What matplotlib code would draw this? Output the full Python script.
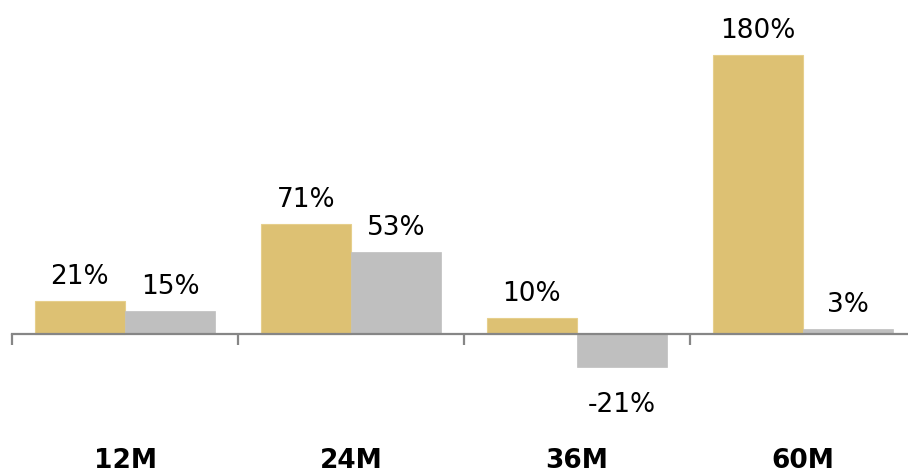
import matplotlib
matplotlib.use("Agg")
import matplotlib.pyplot as plt
import matplotlib.transforms as mtransforms
import numpy as np

categories = ["12M", "24M", "36M", "60M"]
series_a = [21, 71, 10, 180]   # gold
series_b = [15, 53, -21, 3]    # gray

gold = "#DDC173"
gray = "#BFBFBF"
axis_col = "#868686"

W, H = 908, 473
fig = plt.figure(figsize=(W / 100, H / 100), dpi=100)

# axes: x from 12px to 916px; y mapping ~1.55 px per %, zero at 334px from top
ymin, ymax = -45, 200
px_per = 1.55
top_px = 334 - ymax * px_per
bot_px = 334 - ymin * px_per
ax = fig.add_axes([12 / W, 1 - bot_px / H, 904 / W, (bot_px - top_px) / H])
ax.set_xlim(-0.5, len(categories) - 0.5)
ax.set_ylim(ymin, ymax)

x = np.arange(len(categories))
bw = 0.4
ax.bar(x - bw / 2, series_a, width=bw, color=gold, edgecolor="#E6CF8C", linewidth=0.8, zorder=2)
ax.bar(x + bw / 2, series_b, width=bw, color=gray, edgecolor=gray, linewidth=0.5, zorder=2)

for spine in ["top", "right", "left"]:
    ax.spines[spine].set_visible(False)
ax.spines["bottom"].set_position(("data", 0))
ax.spines["bottom"].set_color(axis_col)
ax.spines["bottom"].set_linewidth(1.6)
ax.spines["bottom"].set_zorder(3)
ax.set_yticks([])
ax.set_xticks(np.arange(len(categories) + 1) - 0.5)
ax.set_xticklabels([])
ax.tick_params(axis="x", direction="out", length=8, width=1.6, color=axis_col)

# value labels
for xs, vals in ((x - bw / 2, series_a), (x + bw / 2, series_b)):
    for xi, v in zip(xs, vals):
        if v >= 0:
            ax.annotate(f"{v}%", (xi, v), xytext=(0, 8), textcoords="offset points",
                        ha="center", va="bottom", fontsize=19, family="DejaVu Sans")
        else:
            ax.annotate(f"{v}%", (xi, v), xytext=(0, -18), textcoords="offset points",
                        ha="center", va="top", fontsize=19, family="DejaVu Sans")

# category labels
trans = mtransforms.blended_transform_factory(ax.transData, fig.transFigure)
for xi, c in zip(x, categories):
    ax.text(xi, 1 - 461 / H, c, transform=trans, ha="center", va="center",
            fontsize=19, fontweight="bold", family="DejaVu Sans", clip_on=False)

fig.savefig("out.png", dpi=100)
